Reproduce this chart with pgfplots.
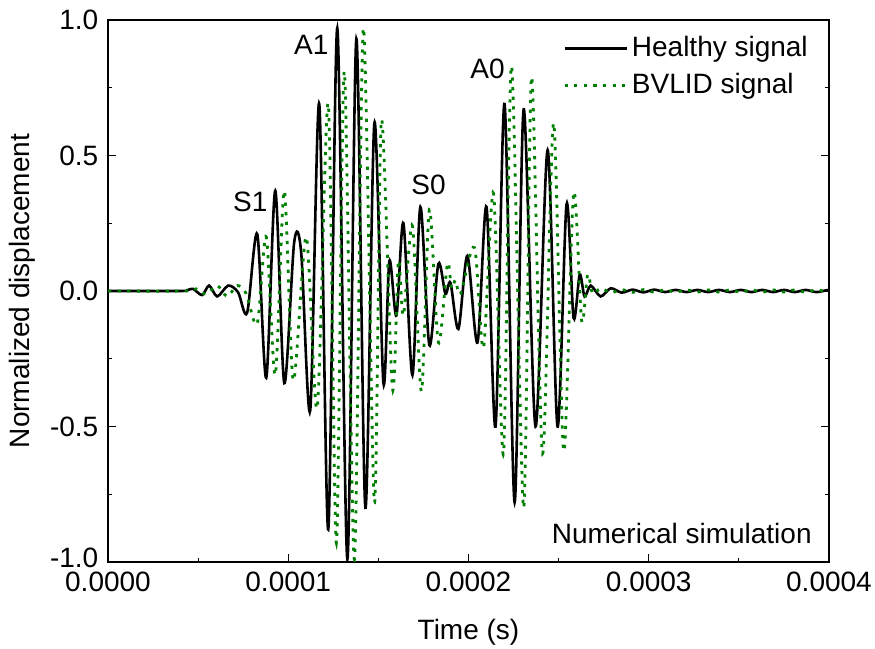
\documentclass[border=0pt]{standalone}
\usepackage{fontspec}
\setmainfont{Liberation Sans}
\usepackage{pgfplots}
\pgfplotsset{compat=1.18}
\definecolor{bgreen}{RGB}{0,128,0}
\begin{document}
\fontsize{14}{16.8}\selectfont
\begin{tikzpicture}
\begin{axis}[
  scale only axis,
  width=360.5pt, height=271pt,
  xmin=0, xmax=400, ymin=-1, ymax=1,
  xtick={0,100,200,300,400},
  xticklabels={0.0000,0.0001,0.0002,0.0003,0.0004},
  ytick={-1,-0.5,0,0.5,1},
  yticklabels={\raisebox{4.5pt}{-1.0},-0.5,0.0,0.5,1.0},
  minor x tick num=1, minor y tick num=1,
  tick align=inside,
  xtick pos=left, ytick pos=both,
  major tick length=4pt, minor tick length=2pt,
  every tick/.style={black, line width=0.5pt},
  axis line style={line width=0.6pt},
  tick label style={font=\fontsize{14}{16.8}\selectfont},
  label style={font=\fontsize{14}{16.8}\selectfont},
  xlabel={Time (s)}, ylabel={Normalized displacement},
  xlabel style={at={(axis description cs:0.5,-0.129)}, anchor=center},
  ylabel style={at={(axis description cs:-0.119,0.5)}, anchor=center},
  legend style={draw=none, fill=none, at={(0.985,0.985)}, anchor=north east,
    font=\fontsize{14}{16.8}\selectfont, row sep=2pt},
  legend cell align=left,
  legend image code/.code={\draw[#1] (0pt,0pt) -- (31pt,0pt);},
]
\addplot[black, line width=1.3pt, smooth] coordinates {
(0,0) (40,0) (44,0.003) (47.2,0.008) (52.2,-0.015) (56.1,0.02) (60.6,-0.02)
(66.7,0.02) (72.2,-0.005) (77.2,-0.08) (82.8,0.21) (87.8,-0.32) (92.8,0.37)
(97.8,-0.34) (103.3,0.18) (107.2,0.14) (112.2,-0.44) (117.2,0.69) (122.2,-0.88)
(127.2,0.97) (132.8,-0.99) (137.8,0.93) (142.8,-0.80) (147.8,0.62) (152.8,-0.34)
(156.1,0.11) (160,-0.09) (163.9,0.25) (168.9,-0.31) (173.3,0.31) (178.3,-0.20)
(183.3,0.10) (187.2,-0.01) (190,0.03) (194.4,-0.14) (199.4,0.13) (205,-0.19)
(210,0.31) (215,-0.50) (220,0.69) (225.6,-0.78) (230.6,0.67) (237.2,-0.50)
(243.9,0.52) (249.4,-0.50) (254.4,0.32) (258.3,-0.10) (261.7,0.06) (264.4,-0.02)
(267.8,0.02) (273.3,-0.02) (278.9,0.01) (285,-0.006) (291,0.005) (297,-0.005)
(303,0.005) (309,-0.004) (315,0.004) (321,-0.004) (327,0.004) (333,-0.004)
(339,0.004) (345,-0.004) (351,0.004) (357,-0.004) (363,0.004) (369,-0.004)
(375,0.004) (381,-0.004) (387,0.004) (393,-0.004) (399,0.003) (400,0)
};
\addlegendentry{Healthy signal}
\addplot[bgreen, line width=1.4pt, dash pattern=on 1.6pt off 3.2pt, smooth] coordinates {
(0,0) (42.8,0) (48.9,0.008) (54.4,-0.012) (60.6,0.02) (66.1,-0.02) (71.7,0.02)
(76.7,-0.01) (82.8,-0.12) (87.8,0.20) (92.8,-0.31) (97.8,0.37) (102.8,-0.33)
(110,0.20) (116.1,-0.43) (122.2,0.69) (126.7,-0.93) (131.1,0.81) (136.7,-0.99)
(141.7,0.97) (147.8,-0.78) (151.7,0.63) (157.8,-0.36) (161.1,0.11) (163.9,-0.09)
(168.9,0.24) (173.9,-0.37) (178.3,0.30) (183.3,-0.19) (188.3,0.10) (190.6,0.01)
(192.8,0.04) (195.6,-0.01) (203.3,0.16) (208.3,-0.21) (213.9,0.36) (219.4,-0.60)
(223.9,0.83) (230.6,-0.80) (235,0.79) (241.1,-0.60) (247.2,0.62) (252.8,-0.59)
(258.3,0.36) (262.8,-0.11) (266.1,0.06) (268.9,-0.01) (273.3,0.01) (279,-0.006)
(285,0.005) (291,-0.005) (297,0.005) (303,-0.004) (309,0.004) (315,-0.004)
(321,0.004) (327,-0.004) (333,0.004) (339,-0.004) (345,0.004) (351,-0.004)
(357,0.004) (363,-0.004) (369,0.004) (375,-0.004) (381,0.004) (387,-0.004)
(393,0.004) (399,-0.003) (400,0)
};
\addlegendentry{BVLID signal}
\node at (axis cs:78.9,0.33) {S1};
\node at (axis cs:112.8,0.91) {A1};
\node at (axis cs:177.8,0.39) {S0};
\node at (axis cs:210.6,0.82) {A0};
\node at (axis cs:318.3,-0.893) {Numerical simulation};
\end{axis}
\pgfresetboundingbox
\path (-54pt,-43.5pt) rectangle (383.5pt,281pt);
\end{tikzpicture}
\end{document}
